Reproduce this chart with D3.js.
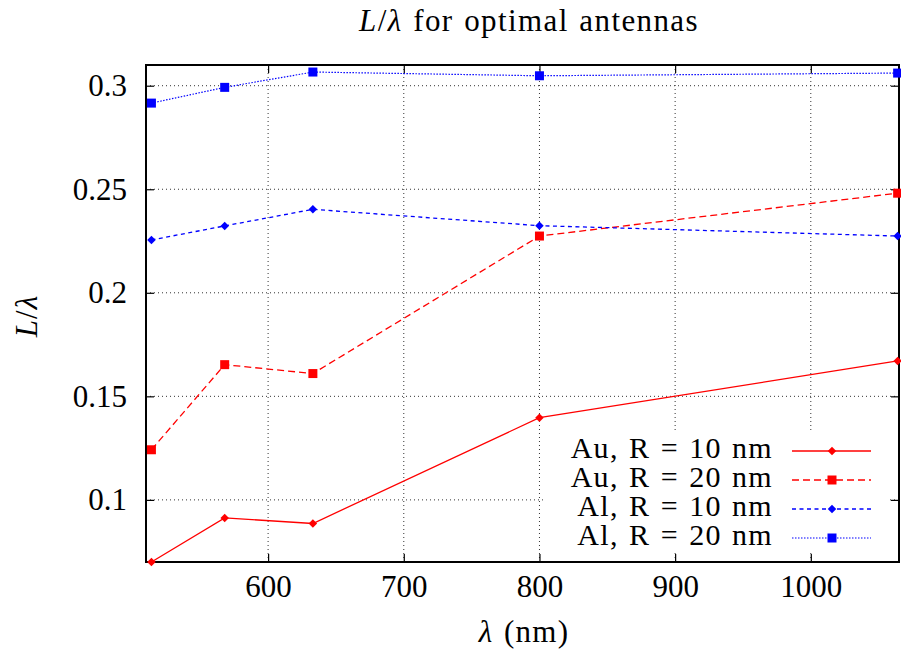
<!DOCTYPE html>
<html lang="en">
<head>
<meta charset="UTF-8">
<title>L/λ for optimal antennas</title>
<script src="https://d3js.org/d3.v7.min.js"></script>
<style>
  body { margin: 0; background: #fff; }
  svg text { font-family: "Liberation Serif", "DejaVu Serif", serif !important; fill: #000; }
</style>
</head>
<body>
<svg width="901" height="653"></svg>
<script>
  // wavelengths (nm) and L/lambda values
  const wavelengths = [514, 568, 633, 800, 1064];
  const au10 = [0.0700, 0.0913, 0.0886, 0.1397, 0.1671];
  const au20 = [0.1242, 0.1653, 0.1610, 0.2274, 0.2481];
  const al10 = [0.2255, 0.2323, 0.2403, 0.2324, 0.2274];
  const al20 = [0.2916, 0.2992, 0.3066, 0.3048, 0.3061];
  const seriesNames = ["Au, R = 10 nm", "Au, R = 20 nm", "Al, R = 10 nm", "Al, R = 20 nm"];
  const xTicks = [600, 700, 800, 900, 1000];
  const yTicks = [0.1, 0.15, 0.2, 0.25, 0.3];
  const yTickLabels = ["0.1", "0.15", "0.2", "0.25", "0.3"];

  const svg = d3.select("svg");
  const plotLeft = 146, plotRight = 899, plotTop = 65, plotBottom = 562;
  const fontSize = 31;

  const x = d3.scaleLinear().domain([510, 1065]).range([plotLeft, plotRight]);
  const y = d3.scaleLinear().domain([0.07, 0.31]).range([plotBottom, plotTop]);

  // gnuplot style diamond (rotated square)
  const diamond = {
    draw(ctx, size) {
      const r = Math.sqrt(size) / 2;
      ctx.moveTo(0, -r); ctx.lineTo(r, 0); ctx.lineTo(0, r); ctx.lineTo(-r, 0); ctx.closePath();
    }
  };

  const series = [
    { name: seriesNames[0], values: au10, color: "#ff0000", dash: null, width: 1.3, symbol: diamond, size: 72 },
    { name: seriesNames[1], values: au20, color: "#ff0000", dash: "7,4", width: 1.3, symbol: d3.symbolSquare, size: 81 },
    { name: seriesNames[2], values: al10, color: "#0000ff", dash: "4,3.5", width: 1.3, symbol: diamond, size: 72 },
    { name: seriesNames[3], values: al20, color: "#0000ff", dash: "1.5,1.5", width: 1.2, symbol: d3.symbolSquare, size: 81 }
  ];

  // grid
  const grid = svg.append("g").attr("stroke", "#000").attr("stroke-width", 1)
      .attr("stroke-dasharray", "1,3").attr("opacity", 0.8);
  grid.selectAll(".gx").data(xTicks).enter().append("line")
      .attr("x1", d => x(d)).attr("x2", d => x(d)).attr("y1", plotTop).attr("y2", plotBottom);
  grid.selectAll(".gy").data(yTicks).enter().append("line")
      .attr("y1", d => y(d)).attr("y2", d => y(d)).attr("x1", plotLeft).attr("x2", plotRight);

  // axes with inward ticks
  const xAxis = svg.append("g").attr("transform", `translate(0,${plotBottom})`)
      .call(d3.axisBottom(x).tickValues(xTicks).tickFormat(d3.format("d"))
        .tickSizeInner(-8).tickSizeOuter(0).tickPadding(13));
  const yAxis = svg.append("g").attr("transform", `translate(${plotLeft},0)`)
      .call(d3.axisLeft(y).tickValues(yTicks).tickFormat((d, i) => yTickLabels[i])
        .tickSizeInner(-8).tickSizeOuter(0).tickPadding(19));
  const xTop = svg.append("g").attr("transform", `translate(0,${plotTop})`)
      .call(d3.axisTop(x).tickValues(xTicks).tickFormat("").tickSizeInner(-8).tickSizeOuter(0));
  const yRight = svg.append("g").attr("transform", `translate(${plotRight},0)`)
      .call(d3.axisRight(y).tickValues(yTicks).tickFormat("").tickSizeInner(-8).tickSizeOuter(0));
  [xAxis, yAxis, xTop, yRight].forEach(g => {
    g.attr("font-family", null);
    g.select(".domain").remove();
    g.selectAll("line").attr("stroke", "#000").attr("stroke-width", 1.2);
    g.selectAll("text").attr("font-size", fontSize).attr("fill", "#000");
  });

  // border
  svg.append("rect").attr("x", plotLeft).attr("y", plotTop)
      .attr("width", plotRight - plotLeft).attr("height", plotBottom - plotTop)
      .attr("fill", "none").attr("stroke", "#000").attr("stroke-width", 2);

  // legend background (opaque key)
  svg.append("rect").attr("x", 545).attr("y", 431).attr("width", 343).attr("height", 121)
      .attr("fill", "#fff");

  // data
  const line = d3.line().x((d, i) => x(wavelengths[i])).y(d => y(d));
  series.forEach(s => {
    svg.append("path").datum(s.values)
        .attr("d", line).attr("fill", "none").attr("stroke", s.color)
        .attr("stroke-width", s.width).attr("stroke-dasharray", s.dash);
    svg.append("g").selectAll("path").data(s.values).enter().append("path")
        .attr("transform", (d, i) => `translate(${x(wavelengths[i])},${y(d)})`)
        .attr("d", d3.symbol().type(s.symbol).size(s.size)).attr("fill", s.color);
  });

  // legend
  const key = svg.append("g");
  series.forEach((s, i) => {
    const ly = 451 + i * 29;
    key.append("text").attr("x", 773).attr("y", ly + 7).attr("text-anchor", "end")
        .attr("font-size", 30).attr("letter-spacing", 1.3).attr("word-spacing", 1.5).text(s.name);
    key.append("line").attr("x1", 792).attr("x2", 871).attr("y1", ly).attr("y2", ly)
        .attr("stroke", s.color).attr("stroke-width", s.width).attr("stroke-dasharray", s.dash);
    key.append("path").attr("transform", `translate(832,${ly})`)
        .attr("d", d3.symbol().type(s.symbol).size(s.size)).attr("fill", s.color);
  });

  // title and axis labels
  const title = svg.append("text").attr("x", 529).attr("y", 31).attr("text-anchor", "middle")
      .attr("font-size", fontSize).attr("letter-spacing", 1.4).attr("word-spacing", 1.5);
  title.append("tspan").attr("font-style", "italic").text("L");
  title.append("tspan").text("/");
  title.append("tspan").attr("font-style", "italic").text("λ");
  title.append("tspan").text(" for optimal antennas");

  const xl = svg.append("text").attr("x", 524).attr("y", 642).attr("text-anchor", "middle")
      .attr("font-size", fontSize).attr("letter-spacing", 1.3).attr("word-spacing", 1.5);
  xl.append("tspan").attr("font-style", "italic").text("λ");
  xl.append("tspan").text(" (nm)");

  const yl = svg.append("text").attr("transform", "translate(37,316) rotate(-90)")
      .attr("text-anchor", "middle").attr("font-size", fontSize).attr("letter-spacing", 1);
  yl.append("tspan").attr("font-style", "italic").text("L");
  yl.append("tspan").text("/");
  yl.append("tspan").attr("font-style", "italic").text("λ");
</script>
</body>
</html>
